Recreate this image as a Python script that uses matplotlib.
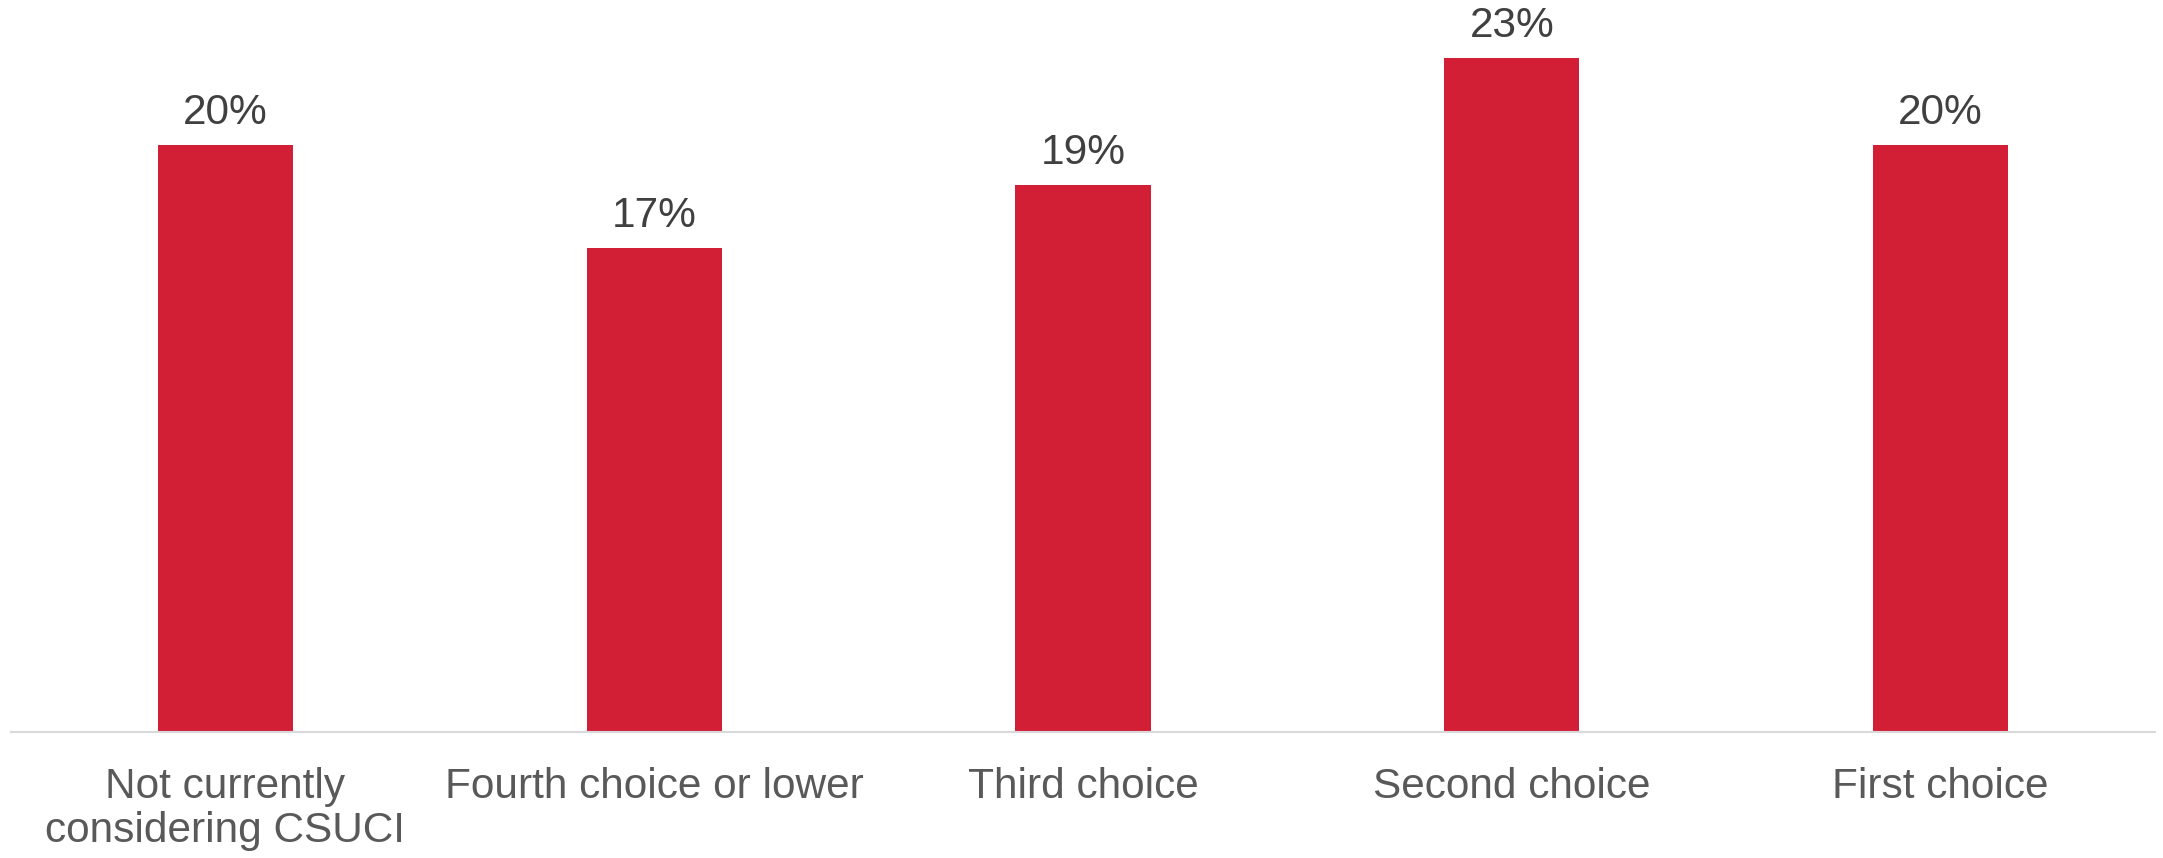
import matplotlib
matplotlib.use('Agg')
import matplotlib.pyplot as plt

plt.rcParams['font.family'] = ['Liberation Sans', 'DejaVu Sans']

categories = ['Not currently\nconsidering CSUCI', 'Fourth choice or lower',
              'Third choice', 'Second choice', 'First choice']
values = [20.4, 16.8, 19.0, 23.4, 20.4]
value_labels = ['20%', '17%', '19%', '23%', '20%']

fig = plt.figure(figsize=(21.63, 8.58), dpi=100)
ax = fig.add_axes([0.0051, 0.1469, 0.9912, 0.839])

x = range(len(categories))
bars = ax.bar(x, values, width=0.315, color='#D21F36', zorder=2)

for rect, lbl in zip(bars, value_labels):
    ax.annotate(lbl, (rect.get_x() + rect.get_width() / 2, rect.get_height()),
                xytext=(0, 15), textcoords='offset points',
                ha='center', va='baseline', fontsize=30.5, color='#404040')

ax.set_xlim(-0.5, 4.5)
ax.set_ylim(0, 25)
ax.set_xticks(list(x))
ax.set_xticklabels(categories, fontsize=30.5, color='#595959', linespacing=1.15)
ax.tick_params(axis='x', length=0, pad=25)
ax.set_yticks([])

for side in ['top', 'right', 'left']:
    ax.spines[side].set_visible(False)
ax.spines['bottom'].set_color('#D9D9D9')
ax.spines['bottom'].set_linewidth(1.5)

fig.savefig('out.png', dpi=100)
